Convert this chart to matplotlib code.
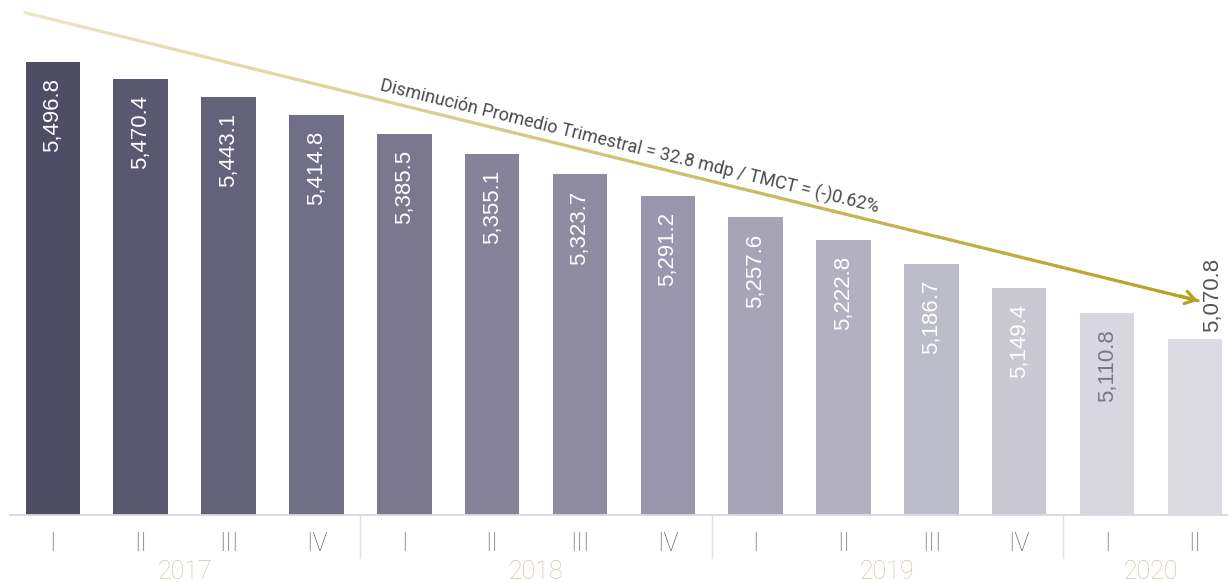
import numpy as np
import matplotlib
matplotlib.use("Agg")
import matplotlib.pyplot as plt
from matplotlib.collections import LineCollection
from matplotlib.colors import to_rgb
import matplotlib.transforms as mtransforms

quarters = ["I", "II", "III", "IV", "I", "II", "III", "IV", "I", "II", "III", "IV", "I", "II"]
years = ["2017", "2018", "2019", "2020"]
year_sizes = [4, 4, 4, 2]
values = [5496.8, 5470.4, 5443.1, 5414.8, 5385.5, 5355.1, 5323.7, 5291.2,
          5257.6, 5222.8, 5186.7, 5149.4, 5110.8, 5070.8]
labels = ["5,496.8", "5,470.4", "5,443.1", "5,414.8", "5,385.5", "5,355.1", "5,323.7",
          "5,291.2", "5,257.6", "5,222.8", "5,186.7", "5,149.4", "5,110.8", "5,070.8"]
annotation = "Disminución Promedio Trimestral = 32.8 mdp / TMCT = (-)0.62%"

colors = ["#4f4c65", "#5a5771", "#64617a", "#716e88", "#7a778f", "#858299", "#8f8ca2",
          "#9996ad", "#a7a4b7", "#b3b1c1", "#bdbcca", "#c9c8d3", "#d8d7e0", "#dcdbe4"]

plt.rcParams['font.family'] = ['Roboto', 'DejaVu Sans']

W, H = 1228, 582
fig = plt.figure(figsize=(W / 100, H / 100), dpi=100)
ax = fig.add_axes([10 / W, 67 / H, 1218 / W, 515 / H])

x = np.arange(len(values))
ax.bar(x, values, width=0.62, color=colors, zorder=2)
ax.set_xlim(-0.4877, 13.376)
ax.set_ylim(4800, 5592)

for s in ["top", "right", "left"]:
    ax.spines[s].set_visible(False)
ax.spines["bottom"].set_color("#d9d9de")
ax.spines["bottom"].set_linewidth(1.3)
ax.set_yticks([])
ax.set_xticks(x)
ax.set_xticklabels(quarters, color="#5e5e5e", fontsize=18, fontweight="light")
ax.tick_params(axis="x", length=0, pad=12)

label_font = ['Liberation Sans', 'DejaVu Sans']
n = len(values)
for i, (v, lab) in enumerate(zip(values, labels)):
    if i == n - 1:
        ax.annotate(lab, (x[i], v), xytext=(12.5, 5), textcoords="offset points",
                    rotation=90, ha="center", va="bottom", color="#555555",
                    fontsize=16, family=label_font)
    else:
        col = "#77758a" if i == n - 2 else "white"
        ax.annotate(lab, (x[i], v), xytext=(0, -11.5), textcoords="offset points",
                    rotation=90, ha="center", va="top", color=col,
                    fontsize=16, family=label_font)

trans = mtransforms.blended_transform_factory(ax.transData, ax.transAxes)
start = 0
for k, (yr, sz) in enumerate(zip(years, year_sizes)):
    center = start + (sz - 1) / 2
    ax.text(center, -0.1107, yr, transform=trans, ha="center", va="center",
            color="#d0c7a2", fontsize=18, fontweight="light")
    if k < len(years) - 1:
        ax.plot([start + sz - 0.5] * 2, [0, -0.0835], transform=trans,
                color="#e2e2e2", lw=1, clip_on=False)
    start += sz

def px_to_data(px, py):
    disp = (px, H - py)
    return ax.transData.inverted().transform(disp)

p0 = px_to_data(25, 12.7)
p1 = px_to_data(1198, 300.7)
t = np.linspace(0, 1, 200)
xs = p0[0] + (p1[0] - p0[0]) * t
ys = p0[1] + (p1[1] - p0[1]) * t
pts = np.column_stack([xs, ys]).reshape(-1, 1, 2)
segs = np.concatenate([pts[:-1], pts[1:]], axis=1)
c0 = np.array(to_rgb("#ece6c8"))
c1 = np.array(to_rgb("#b8a024"))
cols = [c0 + (c1 - c0) * tt for tt in t[:-1]]
lc = LineCollection(segs, colors=cols, linewidths=2.3, zorder=3, capstyle="round")
ax.add_collection(lc)
pm = px_to_data(1180, 296)
ax.annotate("", xy=p1, xytext=pm,
            arrowprops=dict(arrowstyle="->,head_length=0.7,head_width=0.45",
                            color="#b8a024", lw=2.3, shrinkA=0, shrinkB=0), zorder=4)

angle = -np.degrees(np.arctan2(300.7 - 12.7, 1198 - 25))
tp = px_to_data(383, 76)
ax.text(tp[0], tp[1], annotation, rotation=angle, rotation_mode="anchor",
        ha="left", va="top", color="#4a4a4a", fontsize=13)

fig.savefig("out.png", dpi=100)
